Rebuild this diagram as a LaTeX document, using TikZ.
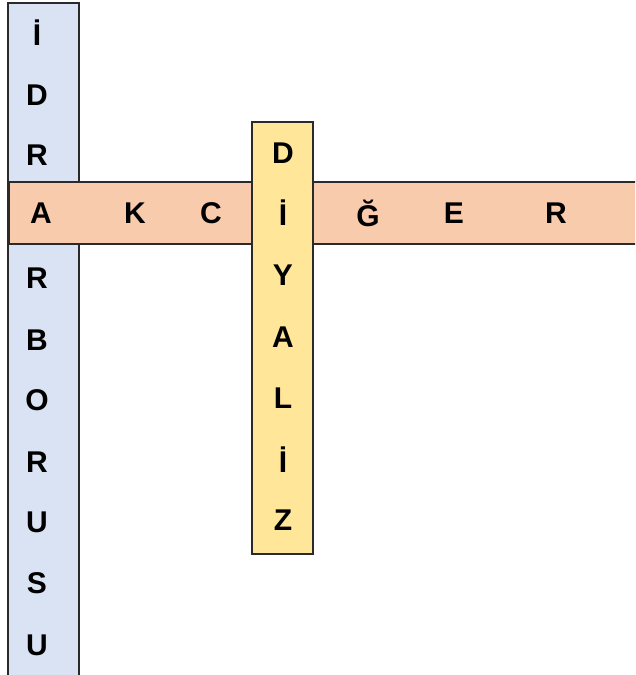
\documentclass[tikz,border=0pt]{standalone}
\usepackage{fontspec}
\setmainfont{Liberation Sans}
\definecolor{stripblue}{HTML}{DAE3F3}
\definecolor{striporange}{HTML}{F8CBAD}
\definecolor{stripyellow}{HTML}{FFE699}
\definecolor{edgegray}{HTML}{2A2A2A}
\tikzset{
  strip/.style={draw=edgegray, line width=1.3pt},
  letter/.style={inner sep=0pt, font=\fontsize{30}{30}\selectfont\bfseries}
}
\begin{document}
\begin{tikzpicture}[x=1pt, y=-1pt]
  \useasboundingbox (0, 0) rectangle (635, 675);
  \begin{scope}
    \clip (0, 0) rectangle (635, 675);
    \draw[strip, fill=stripblue] (8, 3) rectangle (79, 690);
    \draw[strip, fill=striporange] (9, 182) rectangle (650, 244);
    \draw[strip, fill=stripyellow] (252, 122) rectangle (313, 554);
  \end{scope}
  % idrar borusu
  \foreach \ch/\y [count=\i] in {İ/33, D/95, R/155, R/278, B/340, O/400, R/462, U/522, S/583, U/645}
    \node[letter] (col\i) at (37, \y) {\ch};
  % akciğer
  \foreach \ch/\x [count=\i] in {A/41, K/135, C/211, İ/283, Ğ/368, E/454, R/556}
    \node[letter] (row\i) at (\x, 213) {\ch};
  % diyaliz
  \foreach \ch/\y [count=\i] in {D/153, Y/275, A/337, L/398, İ/460, Z/520}
    \node[letter] (dia\i) at (283, \y) {\ch};
\end{tikzpicture}
\end{document}
